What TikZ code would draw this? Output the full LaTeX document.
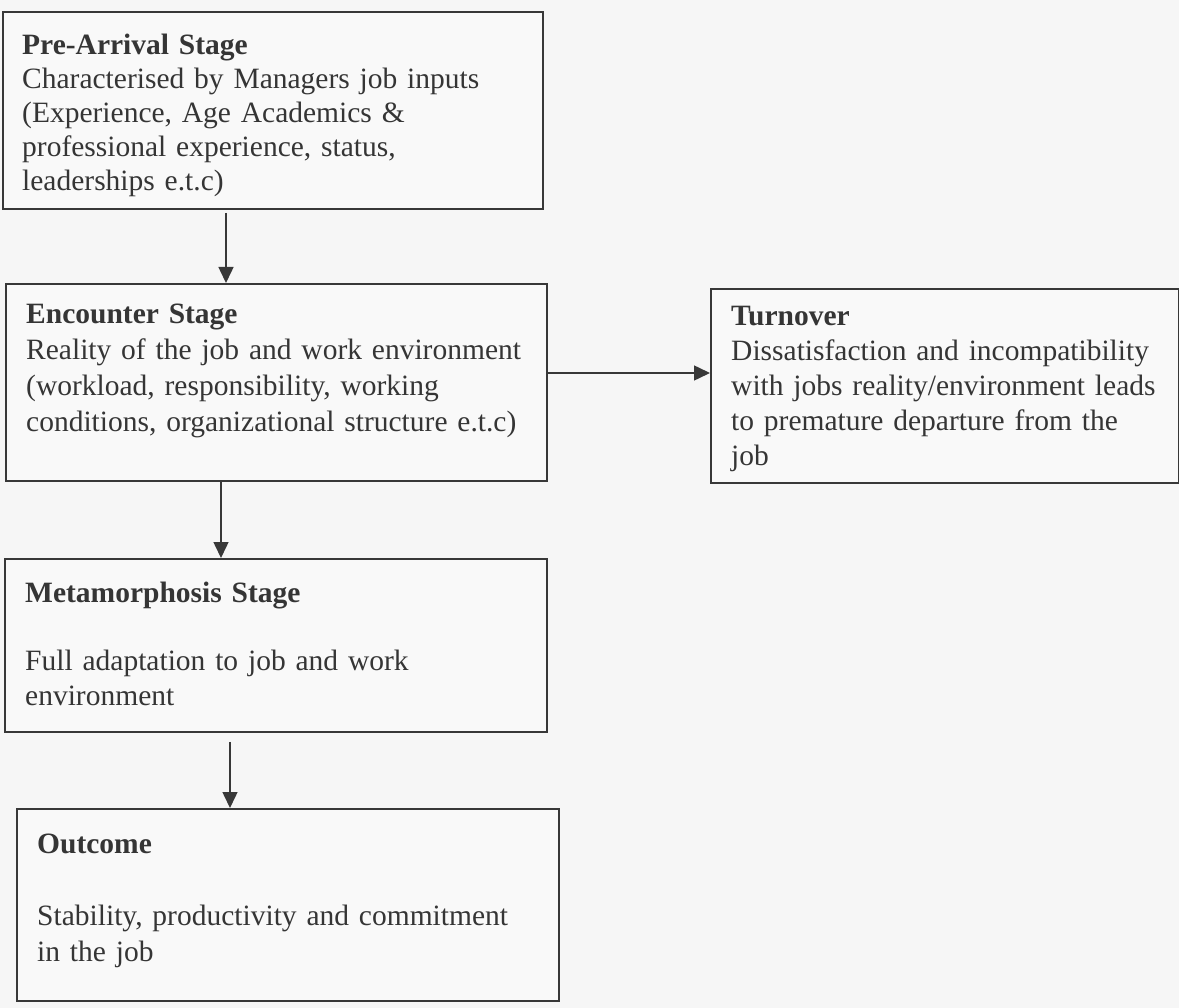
\documentclass[tikz,border=0pt]{standalone}
\usepackage{fontspec}
\setmainfont{Liberation Serif}
\usetikzlibrary{arrows.meta}
\definecolor{ink}{HTML}{353535}
\definecolor{linec}{HTML}{383838}
\definecolor{paper}{HTML}{F6F6F6}
\definecolor{boxfill}{HTML}{F9F9F9}
\tikzset{
  stagebox/.style={draw=linec, fill=boxfill, line width=1.8pt, inner sep=0pt, anchor=north west},
  txt/.style={anchor=base west, inner sep=0pt, text=ink, align=left, text width=#1},
  txt/.default=530pt,
  lead/.style={font=\fontsize{29.5}{#1}\selectfont},
  arr/.style={draw=linec, line width=1.5pt, -{Triangle[length=16pt,width=15pt]}}
}
\begin{document}
\begin{tikzpicture}[x=1pt,y=-1pt]
\fill[paper] (0,0) rectangle (1179,1008);
\useasboundingbox (0,0) rectangle (1179,1008);

% boxes
\node[stagebox, minimum width=540pt, minimum height=197pt] (pre) at (2,11) {};
\node[stagebox, minimum width=541pt, minimum height=197pt] (enc) at (5,283) {};
\node[stagebox, minimum width=468pt, minimum height=194pt] (turn) at (710,288) {};
\node[stagebox, minimum width=542pt, minimum height=173pt] (meta) at (4,558) {};
\node[stagebox, minimum width=542pt, minimum height=192pt] (out) at (16,808) {};

% texts
\node[txt, lead=34pt] (preT) at (22,55) {\textbf{Pre-Arrival Stage}\\Characterised by Managers job inputs\\(Experience, Age Academics \&\\professional experience, status,\\leaderships e.t.c)};
\node[txt, lead=36pt] (encT) at (26,324) {\textbf{Encounter Stage}\\Reality of the job and work environment\\(workload, responsibility, working\\conditions, organizational structure e.t.c)};
\node[txt=450pt, lead=35pt] (turnT) at (731,326) {\textbf{Turnover}\\Dissatisfaction and incompatibility\\with jobs reality/environment leads\\to premature departure from the\\job};
\node[txt, lead=35pt] (metaT) at (25,602) {\textbf{Metamorphosis Stage}\\[33pt]Full adaptation to job and work\\environment};
\node[txt, lead=36pt] (outT) at (37,853) {\textbf{Outcome}\\[36pt]Stability, productivity and commitment\\in the job};

% connectors
\draw[arr] ([xshift=224pt,yshift=-3pt]pre.south west) -- ([xshift=221pt]enc.north west);
\draw[arr] ([xshift=216pt]enc.south west) -- ([xshift=217pt]meta.north west);
\draw[arr] ([xshift=226pt,yshift=-9pt]meta.south west) -- ([xshift=214pt]out.north west);
\draw[arr] ([yshift=-90pt]enc.north east) -- ([yshift=-85pt]turn.north west);
\end{tikzpicture}
\end{document}
